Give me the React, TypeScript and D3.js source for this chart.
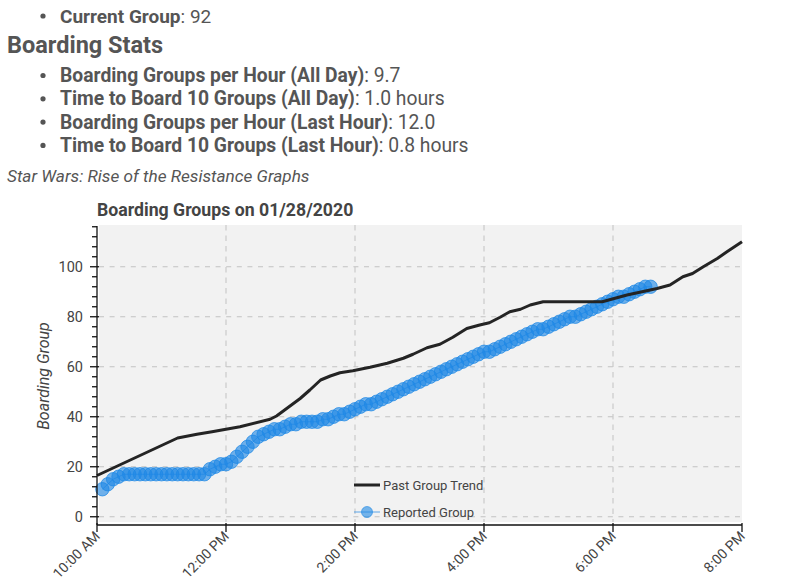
import React from "react";
import * as d3 from "d3";

const W = 800;
const H = 585;

// Past group trend (time of day, boarding group)
const TREND_TIMES = [
  "10:00", "11:15", "11:33", "11:47", "12:00", "12:13", "12:41", "12:47", "13:09", "13:18",
  "13:28", "13:37", "13:46", "13:58", "14:14", "14:30", "14:45", "14:54", "15:07", "15:19",
  "15:31", "15:44", "15:56", "16:05", "16:15", "16:24", "16:34", "16:43", "16:55", "17:50",
  "18:13", "18:41", "18:53", "19:05", "19:14", "19:24", "19:37", "19:46", "20:00",
];
const TREND_VALUES = [
  16.5, 31.5, 33, 34, 35, 36, 39, 40.3, 47.3, 50.7,
  54.7, 56.3, 57.6, 58.4, 59.8, 61.4, 63.4, 65, 67.6, 69,
  71.8, 75.3, 76.7, 77.6, 79.8, 82, 83, 84.7, 86, 86,
  88.7, 91.3, 92.7, 96, 97.3, 100, 103.3, 106, 110,
];

// Reported groups
const REPORTED_TIMES = [
  "10:05", "10:10", "10:15", "10:20", "10:25", "10:30", "10:35", "10:40", "10:45", "10:50",
  "10:55", "11:00", "11:05", "11:10", "11:15", "11:20", "11:25", "11:30", "11:35", "11:40",
  "11:45", "11:50", "11:55", "12:00", "12:05", "12:10", "12:15", "12:20", "12:25", "12:30",
  "12:35", "12:40", "12:45", "12:50", "12:55", "13:00", "13:05", "13:10", "13:15", "13:20",
  "13:25", "13:30", "13:35", "13:40", "13:45", "13:50", "13:55", "14:00", "14:05", "14:10",
  "14:15", "14:20", "14:25", "14:30", "14:35", "14:40", "14:45", "14:50", "14:55", "15:00",
  "15:05", "15:10", "15:15", "15:20", "15:25", "15:30", "15:35", "15:40", "15:45", "15:50",
  "15:55", "16:00", "16:05", "16:10", "16:15", "16:20", "16:25", "16:30", "16:35", "16:40",
  "16:45", "16:50", "16:55", "17:00", "17:05", "17:10", "17:15", "17:20", "17:25", "17:30",
  "17:35", "17:40", "17:45", "17:50", "17:55", "18:00", "18:05", "18:10", "18:15", "18:20",
  "18:25", "18:30", "18:35",
];
const REPORTED_VALUES = [
  11, 13, 15, 16, 17, 17, 17, 17, 17, 17,
  17, 17, 17, 17, 17, 17, 17, 17, 17, 17,
  19, 20, 21, 21, 22, 24, 26, 28, 30, 32,
  33, 34, 35, 35, 36, 37, 37, 38, 38, 38,
  38, 39, 39, 40, 41, 41, 42, 43, 44, 45,
  45, 46, 47, 48, 49, 50, 51, 52, 53, 54,
  55, 56, 57, 58, 59, 60, 61, 62, 63, 64,
  65, 66, 66, 67, 68, 69, 70, 71, 72, 73,
  74, 75, 75, 76, 77, 78, 79, 80, 80, 81,
  82, 83, 84, 85, 86, 87, 88, 88, 89, 90,
  91, 92, 92,
];

const X_DOMAIN = ["10:00", "20:00"];
const Y_DOMAIN = [-2.9, 116.3];
const Y_MAJOR = [0, 20, 40, 60, 80, 100];

const STATS_LABELS = [
  "Boarding Groups per Hour (All Day)",
  "Time to Board 10 Groups (All Day)",
  "Boarding Groups per Hour (Last Hour)",
  "Time to Board 10 Groups (Last Hour)",
];
const STATS_VALUES = ["9.7", "1.0 hours", "12.0", "0.8 hours"];

const parseT = (s: string) => {
  const [h, m] = s.split(":").map(Number);
  return new Date(2020, 0, 28, h, m);
};

const FONT = "Roboto, 'Noto Sans', sans-serif";
const TEXT = "#555555";
const AX = "#444444";
const BLUE = "#1e88e5";

export default function App() {
  const left = 97, right = 742, top = 226, bottom = 524;
  const x = d3.scaleTime().domain(X_DOMAIN.map(parseT)).range([left, right]);
  const y = d3.scaleLinear().domain(Y_DOMAIN).range([bottom, top]);

  const xTicks = x.ticks(d3.timeHour.every(2) as any);
  const fmt = d3.timeFormat("%-I:%M %p");
  const yMinor = d3.range(-0, 117, 4).filter((v) => v >= Y_DOMAIN[0] && v <= Y_DOMAIN[1] && !Y_MAJOR.includes(v));

  const trend = TREND_TIMES.map((t, i) => [parseT(t), TREND_VALUES[i]] as [Date, number]);
  const reported = REPORTED_TIMES.map((t, i) => [parseT(t), REPORTED_VALUES[i]] as [Date, number]);
  const line = d3.line<[Date, number]>().x((d) => x(d[0])).y((d) => y(d[1]));

  const axisY = bottom + 1;

  return (
    <svg width={W} height={H} style={{ position: "absolute", left: 0, top: 0 }} fontFamily={FONT}>
      {/* Page text */}
      <g fill={TEXT}>
        <circle cx={43} cy={16} r={2.6} />
        <text x={60} y={22.5} fontSize={19}>
          <tspan fontWeight="bold">Current Group</tspan>: 92
        </text>
        <text x={7} y={53} fontSize={23.5} fontWeight="bold">Boarding Stats</text>
        {STATS_LABELS.map((l, i) => (
          <g key={l}>
            <circle cx={43} cy={75.5 + i * 23.3} r={2.6} />
            <text x={60} y={82 + i * 23.3} fontSize={19.3}>
              <tspan fontWeight="bold">{l}</tspan>: {STATS_VALUES[i]}
            </text>
          </g>
        ))}
        <text x={7} y={182} fontSize={17.2} fontStyle="italic">Star Wars: Rise of the Resistance Graphs</text>
      </g>

      {/* Title */}
      <text x={97} y={216} fontSize={17.7} fontWeight="bold" fill={AX}>Boarding Groups on 01/28/2020</text>

      {/* Plot background */}
      <rect x={left + 2} y={top - 1} width={right - left - 2} height={bottom - top - 1} fill="#f2f2f2" />

      {/* Grid */}
      <g stroke="#c2c2c2" strokeWidth={1}>
        {Y_MAJOR.map((v) => (
          <line key={"gy" + v} x1={left + 2} x2={right} y1={y(v)} y2={y(v)} strokeDasharray="5,5.6" />
        ))}
        {xTicks.slice(1, -1).map((t) => (
          <line key={"gx" + t.getTime()} x1={x(t)} x2={x(t)} y1={top - 1} y2={bottom - 2} strokeDasharray="5.5,5" />
        ))}
      </g>

      {/* Reported line + dots */}
      <path d={line(reported) || ""} fill="none" stroke={BLUE} strokeOpacity={0.7} strokeWidth={1} />
      <g>
        {reported.map((d, i) => (
          <circle
            key={"r" + i}
            cx={x(d[0])}
            cy={y(d[1])}
            r={6.7}
            fill={BLUE}
            fillOpacity={0.62}
            stroke={BLUE}
            strokeOpacity={0.75}
            strokeWidth={1}
          />
        ))}
      </g>

      {/* Trend line */}
      <path d={line(trend) || ""} fill="none" stroke="#242424" strokeWidth={3} strokeLinejoin="round" />

      {/* Legend */}
      <g fontSize={13} fill={AX}>
        <line x1={354} x2={380} y1={485} y2={485} stroke="#242424" strokeWidth={3} />
        <text x={383} y={489.5}>Past Group Trend</text>
        <line x1={354} x2={380} y1={512} y2={512} stroke={BLUE} strokeOpacity={0.7} strokeWidth={1} />
        <circle cx={367} cy={512} r={5.5} fill={BLUE} fillOpacity={0.6} stroke={BLUE} strokeOpacity={0.6} />
        <text x={383} y={516.5}>Reported Group</text>
      </g>

      {/* Y axis */}
      <g stroke="#111" strokeWidth={1.3}>
        <line x1={left} x2={left} y1={top} y2={axisY} />
        {Y_MAJOR.map((v) => (
          <line key={"ym" + v} x1={left - 7} x2={left + 2} y1={y(v)} y2={y(v)} />
        ))}
        {yMinor.map((v) => (
          <line key={"yn" + v} x1={left - 5} x2={left} y1={y(v)} y2={y(v)} />
        ))}
      </g>
      <g fontSize={14.5} fill={AX} textAnchor="end">
        {Y_MAJOR.map((v) => (
          <text key={"yl" + v} x={left - 14} y={y(v) + 5}>{v}</text>
        ))}
      </g>
      <text
        transform={`translate(49,376) rotate(-90)`}
        textAnchor="middle"
        fontSize={16}
        fontStyle="italic"
        fill={AX}
      >
        Boarding Group
      </text>

      {/* X axis */}
      <g stroke="#111" strokeWidth={1.3}>
        <line x1={left} x2={right} y1={axisY} y2={axisY} />
        {xTicks.map((t) => (
          <line key={"xm" + t.getTime()} x1={x(t)} x2={x(t)} y1={axisY - 2} y2={axisY + 7} />
        ))}
      </g>
      <g fontSize={14} fill={AX} textAnchor="end">
        {xTicks.map((t) => (
          <text key={"xl" + t.getTime()} transform={`translate(${x(t) + 4},${axisY + 12}) rotate(-45)`}>
            {fmt(t)}
          </text>
        ))}
      </g>
    </svg>
  );
}
